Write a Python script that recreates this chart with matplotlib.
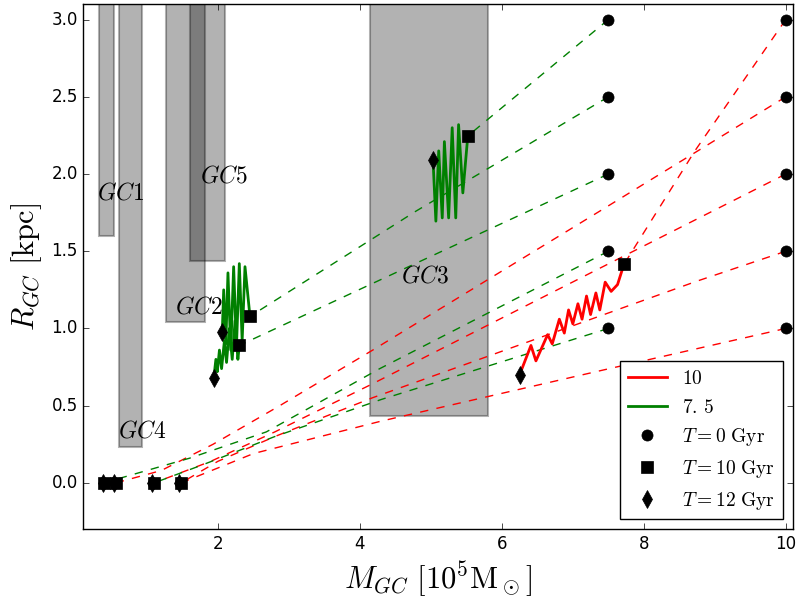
import matplotlib
matplotlib.use('Agg')
import matplotlib.pyplot as plt

plt.style.use('classic')
plt.rcParams['mathtext.fontset'] = 'cm'

# observed GC boxes
gc_names = ['GC1', 'GC2', 'GC3', 'GC4', 'GC5']
gc_m_lo = [0.32, 1.27, 4.14, 0.61, 1.61]
gc_m_hi = [0.54, 1.81, 5.81, 0.93, 2.10]
gc_r_lo = [1.60, 1.045, 0.43, 0.23, 1.435]
gc_label_m = [0.63, 1.73, 4.92, 0.93, 2.08]
gc_label_r = [1.88, 1.14, 1.34, 0.34, 1.99]

# initial radii
r0 = [1.0, 1.5, 2.0, 2.5, 3.0]
m0_red = 10.0
m0_green = 7.5

# dashed tracks, 0 -> 10 Gyr
red_paths_m = [
    [10, 7.42, 4.3, 2.5, 1.48],
    [10, 8.74, 4.17, 2.8, 2.0, 1.48],
    [10, 7.38, 4.17, 2.8, 1.9, 1.10],
    [10, 7.38, 4.18, 2.87, 1.93, 1.2, 0.56],
    [10, 8.72, 7.72],
]
red_paths_r = [
    [1.0, 0.73, 0.40, 0.19, 0.0],
    [1.5, 1.305, 0.55, 0.30, 0.14, 0.0],
    [2.0, 1.39, 0.64, 0.33, 0.14, 0.0],
    [2.5, 1.76, 0.86, 0.50, 0.25, 0.08, 0.0],
    [3.0, 2.15, 1.415],
]
green_paths_m = [
    [7.5, 4.3, 2.8, 1.8, 1.10],
    [7.5, 4.28, 2.68, 1.6, 0.39],
    [7.5, 4.17, 2.30],
    [7.5, 5.82, 4.79, 2.45],
    [7.5, 5.52],
]
green_paths_r = [
    [1.0, 0.54, 0.30, 0.12, 0.0],
    [1.5, 0.74, 0.33, 0.16, 0.0],
    [2.0, 1.29, 0.89],
    [2.5, 2.04, 1.76, 1.078],
    [3.0, 2.247],
]

# solid tracks, 10 -> 12 Gyr
red_zig_m = [7.72, 7.63, 7.54, 7.456, 7.38, 7.325, 7.25, 7.193, 7.13, 7.072, 7.0,
             6.94, 6.88, 6.81, 6.71, 6.645, 6.48, 6.41, 6.25]
red_zig_r = [1.415, 1.284, 1.24, 1.30, 1.12, 1.23, 1.09, 1.21, 1.06, 1.16, 1.03,
             1.12, 0.97, 1.06, 0.90, 0.96, 0.79, 0.89, 0.70]

green_zig3_m = [5.52, 5.45, 5.39, 5.35, 5.30, 5.25, 5.19, 5.16, 5.11, 5.07, 5.03]
green_zig3_r = [2.247, 1.878, 2.32, 1.716, 2.30, 1.716, 2.21, 1.716, 2.15, 1.695, 2.09]

green_zig2a_m = [2.45, 2.38, 2.34, 2.30, 2.26, 2.22, 2.18, 2.14, 2.11, 2.08, 2.06]
green_zig2a_r = [1.078, 1.40, 0.92, 1.42, 0.88, 1.40, 0.86, 1.36, 0.90, 1.25, 0.98]

green_zig2b_m = [2.30, 2.28, 2.24, 2.20, 2.16, 2.12, 2.09, 2.05, 2.02, 1.99, 1.97, 1.94]
green_zig2b_r = [0.89, 0.80, 1.05, 0.80, 1.00, 0.78, 0.92, 0.74, 0.86, 0.72, 0.80, 0.677]

# snapshots
circle_m = [m0_green] * 5 + [m0_red] * 5
circle_r = r0 + r0
square_m = [7.72, 5.52, 2.45, 2.30, 0.39, 0.56, 1.10, 1.48]
square_r = [1.415, 2.247, 1.078, 0.89, 0.0, 0.0, 0.0, 0.0]
diamond_m = [6.25, 5.03, 2.06, 1.94, 0.38, 0.53, 1.07, 1.45]
diamond_r = [0.70, 2.09, 0.98, 0.677, 0.0, 0.0, 0.0, 0.0]

fig = plt.figure(figsize=(8, 6), dpi=100)
ax = fig.add_subplot(111)
fig.subplots_adjust(left=0.104, right=0.991, bottom=0.118, top=0.993)

for lo, hi, rb in zip(gc_m_lo, gc_m_hi, gc_r_lo):
    ax.bar(lo, 5.0, width=hi - lo, bottom=rb, align='edge',
           facecolor='k', edgecolor='k', alpha=0.3, linewidth=1.5, zorder=1)
for name, xm, yr in zip(gc_names, gc_label_m, gc_label_r):
    ax.text(xm, yr, '$%s$' % name, fontsize=17, ha='center', va='center', zorder=6)

for xm, yr in zip(red_paths_m, red_paths_r):
    ax.plot(xm, yr, 'r--', lw=1, zorder=2)
for xm, yr in zip(green_paths_m, green_paths_r):
    ax.plot(xm, yr, 'g--', lw=1, zorder=2)

ax.plot(red_zig_m, red_zig_r, 'r-', lw=2, zorder=3, label='$10$')
ax.plot(green_zig3_m, green_zig3_r, 'g-', lw=2, zorder=3, label=r'$7.\,5$')
ax.plot(green_zig2a_m, green_zig2a_r, 'g-', lw=2, zorder=3)
ax.plot(green_zig2b_m, green_zig2b_r, 'g-', lw=2, zorder=3)

ax.plot(circle_m, circle_r, 'ko', ms=8, ls='none', zorder=4, label=r'$T=0\ \mathrm{Gyr}$')
ax.plot(square_m, square_r, 'ks', ms=9, ls='none', zorder=4, label=r'$T=10\ \mathrm{Gyr}$')
ax.plot(diamond_m, diamond_r, 'kd', ms=9, ls='none', zorder=4, label=r'$T=12\ \mathrm{Gyr}$')

ax.set_xlim(0.1, 10.1)
ax.set_ylim(-0.3, 3.1)
ax.set_xlabel(r'$M_{GC}\ [10^5\mathrm{M}_\odot]$', fontsize=22)
ax.set_ylabel(r'$R_{GC}\ [\mathrm{kpc}]$', fontsize=22)
ax.legend(loc='lower right', numpoints=1, fontsize=14)

fig.savefig('out.png', dpi=100, facecolor='white')
